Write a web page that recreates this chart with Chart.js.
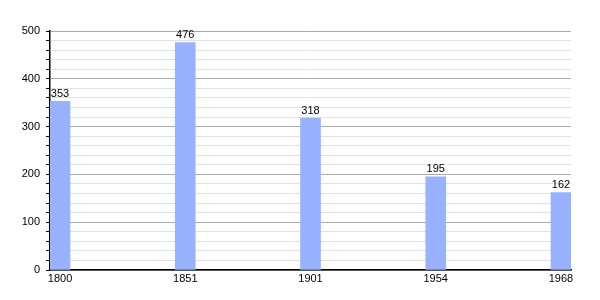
<!DOCTYPE html>
<html>
<head>
<meta charset="utf-8">
<script src="https://cdn.jsdelivr.net/npm/chart.js@4/dist/chart.umd.min.js"></script>
<style>
html,body{margin:0;padding:0;background:#fff;}
#wrap{width:600px;height:300px;}
</style>
</head>
<body>
<div id="wrap"><canvas id="c" width="600" height="300"></canvas></div>
<script>
const categories = ["1800", "1851", "1901", "1954", "1968"];
const population = [353, 476, 318, 195, 162];
const yTicks = [0, 100, 200, 300, 400, 500];

const FONT = "'Liberation Sans', Arial, sans-serif";

const valueLabels = {
  id: 'valueLabels',
  afterDatasetsDraw(chart) {
    const ctx = chart.ctx;
    const meta = chart.getDatasetMeta(0);
    ctx.save();
    ctx.font = "11px " + FONT;
    ctx.fillStyle = "#000";
    ctx.textAlign = "center";
    ctx.textBaseline = "bottom";
    meta.data.forEach((el, i) => {
      ctx.fillText(String(population[i]), el.x, el.y - 2);
    });
    ctx.restore();
  }
};

new Chart(document.getElementById('c'), {
  type: 'bar',
  data: {
    datasets: [{
      data: population.map((v, i) => ({x: i, y: v})),
      backgroundColor: '#99b2ff',
      borderWidth: 0,
      barThickness: 20
    }]
  },
  options: {
    responsive: false,
    animation: false,
    devicePixelRatio: 1,
    layout: {padding: {top: 31, right: 29, left: 0, bottom: 0}},
    plugins: {legend: {display: false}, tooltip: {enabled: false}},
    scales: {
      x: {
        type: 'linear',
        offset: false,
        min: -0.08,
        max: 4.08,
        afterBuildTicks(scale) {
          scale.ticks = categories.map((c, i) => ({value: i}));
        },
        afterFit(scale) { scale.height = 30; },
        grid: {display: false, drawTicks: false, offset: false},
        border: {display: true, color: '#000', width: 1.5},
        ticks: {
          autoSkip: false,
          maxRotation: 0,
          padding: 2,
          color: '#000',
          font: {family: FONT, size: 11},
          callback: (v) => categories[Math.round(v)]
        }
      },
      y: {
        min: 0,
        max: 500,
        afterBuildTicks(scale) {
          const t = [];
          for (let v = 0; v <= 500; v += 20) t.push({value: v});
          scale.ticks = t;
        },
        afterFit(scale) { scale.width = 50; },
        border: {display: true, color: '#000', width: 1.5},
        grid: {
          drawTicks: true,
          tickLength: 4,
          tickColor: '#000',
          color: (ctx) => (ctx.tick && ctx.tick.value % 100 === 0) ? '#aaaaaa' : '#e2e2e2',
          lineWidth: 1
        },
        ticks: {
          autoSkip: false,
          padding: 6,
          color: '#000',
          font: {family: FONT, size: 11},
          callback: (v) => yTicks.includes(v) ? String(v) : ''
        }
      }
    }
  },
  plugins: [valueLabels]
});
</script>
</body>
</html>
